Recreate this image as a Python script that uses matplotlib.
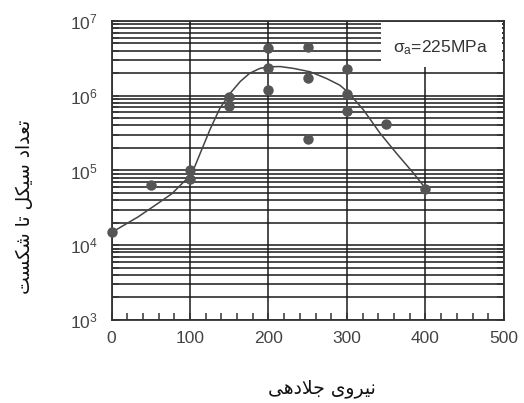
import numpy as np
import matplotlib.pyplot as plt
from matplotlib.ticker import MultipleLocator, LogLocator, NullFormatter
from matplotlib.patches import Rectangle

# measured points (x = force, y = cycles to failure)
force = [0, 50, 100, 100, 150, 150, 200, 200, 200, 250, 250, 250, 300, 300, 300, 350, 400]
cycles = [1.5e4, 6.4e4, 1.0e5, 7.7e4, 9.5e5, 7.2e5, 4.4e6, 2.37e6, 1.21e6,
          4.5e6, 1.7e6, 2.6e5, 2.3e6, 1.04e6, 6.2e5, 4.15e5, 5.7e4]

# trend curve (log10 of cycles)
curve_x = [0, 34, 55, 77, 98, 106, 113, 126, 138, 151, 164, 176, 189, 200,
           215, 232, 253, 274, 291, 302, 321, 342, 363, 385, 400]
curve_logy = [4.17, 4.38, 4.53, 4.69, 4.91, 5.05, 5.23, 5.56, 5.83, 6.03, 6.19,
              6.30, 6.365, 6.387, 6.39, 6.365, 6.32, 6.23, 6.14, 6.04, 5.81,
              5.50, 5.23, 4.96, 4.76]

ylabel_fa = "تعداد سیکل تا شکست"
xlabel_fa = "نیروی جلادهی"

# presentation forms: isolated, final, initial, medial
FORMS = {
    'ت': ('\uFE95', '\uFE96', '\uFE97', '\uFE98'),
    'ع': ('\uFEC9', '\uFECA', '\uFECB', '\uFECC'),
    'د': ('\uFEA9', '\uFEAA', None, None),
    'ا': ('\uFE8D', '\uFE8E', None, None),
    'س': ('\uFEB1', '\uFEB2', '\uFEB3', '\uFEB4'),
    'ی': ('\uFBFC', '\uFBFD', '\uFBFE', '\uFBFF'),
    'ک': ('\uFB8E', '\uFB8F', '\uFB90', '\uFB91'),
    'ل': ('\uFEDD', '\uFEDE', '\uFEDF', '\uFEE0'),
    'ش': ('\uFEB5', '\uFEB6', '\uFEB7', '\uFEB8'),
    'ن': ('\uFEE5', '\uFEE6', '\uFEE7', '\uFEE8'),
    'ر': ('\uFEAD', '\uFEAE', None, None),
    'و': ('\uFEED', '\uFEEE', None, None),
    'ج': ('\uFE9D', '\uFE9E', '\uFE9F', '\uFEA0'),
    'ه': ('\uFEE9', '\uFEEA', '\uFEEB', '\uFEEC'),
}


def shape(text):
    out = []
    i = 0
    n = len(text)
    while i < n:
        c = text[i]
        if c not in FORMS:
            out.append(c)
            i += 1
            continue
        prev = text[i - 1] if i > 0 else ' '
        joins_prev = prev in FORMS and FORMS[prev][2] is not None
        if c == 'ل' and i + 1 < n and text[i + 1] == 'ا':
            out.append('\uFEFC' if joins_prev else '\uFEFB')
            i += 2
            continue
        nxt = text[i + 1] if i + 1 < n else ' '
        joins_next = nxt in FORMS and FORMS[c][2] is not None
        iso, fin, ini, med = FORMS[c]
        if joins_prev and joins_next:
            out.append(med)
        elif joins_prev:
            out.append(fin)
        elif joins_next:
            out.append(ini)
        else:
            out.append(iso)
        i += 1
    return ''.join(reversed(out))


plt.rcParams['font.family'] = ['Liberation Sans', 'DejaVu Sans']
plt.rcParams['mathtext.fontset'] = 'custom'
plt.rcParams['mathtext.rm'] = 'Liberation Sans'
plt.rcParams['mathtext.it'] = 'Liberation Sans'

fig = plt.figure(figsize=(5.24, 4.03), dpi=100)
ax = fig.add_axes([0.2128, 0.206, 0.749, 0.742])

ax.set_yscale('log')
ax.set_xlim(0, 500)
ax.set_ylim(1e3, 1e7)

ax.yaxis.set_major_locator(LogLocator(base=10, numticks=10))
ax.yaxis.set_minor_locator(LogLocator(base=10, subs=np.arange(2, 10), numticks=10))
ax.yaxis.set_minor_formatter(NullFormatter())
ax.xaxis.set_major_locator(MultipleLocator(100))
ax.xaxis.set_minor_locator(MultipleLocator(20))

ax.grid(True, which='major', axis='x', color='#1a1a1a', lw=1.1)
ax.grid(True, which='both', axis='y', color='#1a1a1a', lw=1.1)
ax.set_axisbelow(True)

ax.tick_params(which='both', direction='in', colors='#333333', labelcolor='#444444')
ax.tick_params(which='major', length=5, width=1.1)
ax.tick_params(which='minor', length=5, width=1.1)
ax.tick_params(axis='x', which='major', top=True, labelsize=12.5, pad=8)
ax.tick_params(axis='x', which='minor', top=False)
ax.tick_params(axis='y', which='both', right=True, labelsize=12.5, pad=10)

for s in ax.spines.values():
    s.set_color('#333333')
    s.set_linewidth(1.3)

ax.add_patch(Rectangle((0.687, 0.846), 0.308, 0.152, transform=ax.transAxes,
                       facecolor='white', edgecolor='none', zorder=1))
ax.text(0.837, 0.91, r'$\sigma_{\mathrm{a}}$=225MPa', transform=ax.transAxes,
        ha='center', va='center', fontsize=12.5, color='#333333', zorder=2)

ax.plot(curve_x, 10 ** np.array(curve_logy), color='#444444', lw=1.1, zorder=3)
ax.plot(force, cycles, 'o', color='#555555', ms=7.5, mec='none', zorder=4, clip_on=False)

fig.text(25 / 524, 1 - 207 / 403, shape(ylabel_fa), rotation=90, ha='center', va='center',
         fontsize=13.5, family='DejaVu Sans', color='#111111')
fig.text(322 / 524, 1 - 388 / 403, shape(xlabel_fa), ha='center', va='center',
         fontsize=13.5, family='DejaVu Sans', color='#111111')

fig.savefig('out.png', dpi=100)
